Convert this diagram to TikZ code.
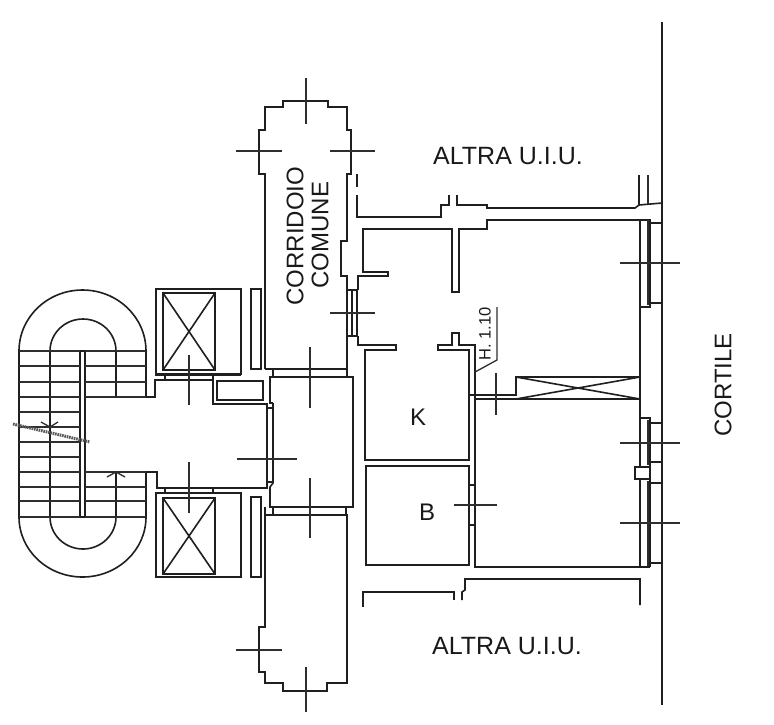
\documentclass[tikz,border=0pt]{standalone}
\usepackage{fontspec}
\setmainfont{Liberation Sans}
\tikzset{
  wall/.style={line width=1.6pt, color=black!88},
  tick/.style={line width=1.3pt, color=black!82},
  heavy/.style={line width=2.6pt, color=black!82},
  room/.style={font=\fontsize{24}{24}\selectfont, color=black!90, inner sep=0pt},
}
\begin{document}
\begin{tikzpicture}[x=1pt,y=-1pt]
  \useasboundingbox (0,0) rectangle (774,724);
  % stairs
  \draw[wall] (19,351) arc[start angle=180,end angle=360,x radius=63.5,y radius=61];
  \draw[wall] (19,517) arc[start angle=180,end angle=0,x radius=63.5,y radius=60];
  \draw[wall] (50,351) arc[start angle=180,end angle=360,x radius=33,y radius=32];
  \draw[wall] (50,517) arc[start angle=180,end angle=0,x radius=33,y radius=32];
  \draw[wall] (19,351) -- (19,517) (50,351) -- (50,517) (146,351) -- (146,397) (146,472) -- (146,517);
  \draw[wall] (116,351) -- (116,397) (116,472) -- (116,517);
  \draw[wall] (80,351) -- (80,517) (85,351) -- (85,517) (80,351) -- (85,351) (80,517) -- (85,517);
  \foreach \y in {351,366,382,397,412,427,442,457,472,487,501,517}
    \draw[tick] (19,\y) -- (80,\y);
  \foreach \y in {351,366,382,397,472,487,501,517}
    \draw[tick] (85,\y) -- (146,\y);
  \draw[tick] (107,477) -- (116,472) -- (125,477);
  \draw[tick] (41,422) -- (50,427) -- (58,422);
  \draw[line width=3pt, color=black!65, dash pattern=on 1.6pt off 0.8pt] (13,424) -- (90,442);
  % hall
  \draw[wall] (146,397) -- (155,397) -- (155,380) -- (213,380) -- (213,404) -- (267,404) -- (267,488) -- (157,488) -- (157,472) -- (146,472);
  \draw[wall] (155,375) -- (241,375) (165,375) -- (165,380) (213,375) -- (213,380);
  \draw[wall] (217,381) rectangle (263,400);
  % lifts
  \draw[wall] (156,374) -- (156,289) -- (241,289) -- (241,374) -- cycle;
  \draw[wall] (163,293) rectangle (215,370) (163,293) -- (215,370) (163,370) -- (215,293);
  \draw[wall] (156,493) rectangle (241,577);
  \draw[wall] (163,498) rectangle (215,574) (163,498) -- (215,574) (163,574) -- (215,498);
  \draw[wall] (165,488) -- (165,493) (213,488) -- (213,493);
  \draw[wall] (251,289) rectangle (261,369);
  \draw[wall] (251,497) rectangle (261,577);
  % corridor, upper arm
  \draw[wall] (265,369) -- (265,174) -- (259,174) -- (259,130) -- (265,130) -- (265,107) -- (283,107) -- (283,101) -- (328,101) -- (328,107) -- (347,107) -- (347,130) -- (351,130) -- (351,174) -- (347,174) -- (347,241) -- (341,241) -- (341,276) -- (347,276) -- (347,370);
  \draw[wall] (265,369) -- (347,369) (273,369) -- (273,377) (347,369) -- (347,377);
  % corridor, middle
  \draw[wall] (273,403) -- (270,403) -- (270,377) -- (353,377) -- (353,507) -- (270,507) -- (270,487) -- (273,483) -- (273,403);
  \draw[wall] (267,408) -- (273,408) (267,482) -- (273,482);
  % corridor, lower arm
  \draw[wall] (265,507) -- (265,627) -- (259,627) -- (259,672) -- (265,672) -- (265,683) -- (283,683) -- (283,691) -- (327,691) -- (327,683) -- (347,683) -- (347,515) -- (265,515);
  \draw[wall] (273,507) -- (273,515) (346,507) -- (346,515);
  % window on corridor
  \draw[wall] (347,290) -- (357,290) -- (357,336) -- (347,336) (352,290) -- (352,336);
  % flat, walls
  \draw[wall] (357,174) -- (357,187) (357,195) -- (357,217) -- (441,217) -- (441,205) -- (449,205) -- (449,195);
  \draw[wall] (457,195) -- (457,205) -- (487,205) -- (487,208) -- (635,208) -- (639,205);
  \draw[wall] (639,175) -- (639,205);
  \draw[heavy] (648,175) -- (648,205);
  \draw[wall] (639,205) -- (662,203);
  \draw[wall] (358,290) -- (358,276) -- (388,276) -- (388,272) -- (363,272) -- (363,229) -- (452,229) -- (452,292) -- (459,292) -- (459,229) -- (487,229) -- (487,220) -- (648,220);
  \draw[wall] (358,336) -- (358,345) -- (396,345) -- (396,350) -- (365,350) -- (365,460) -- (469,460) -- (469,350) -- (438,350) -- (438,345) -- (452,345) -- (452,333) -- (459,333) -- (459,345) -- (475,345) -- (475,567) -- (650,567);
  \draw[wall] (366,466) rectangle (469,565);
  \draw[wall] (469,485) -- (475,485) (469,525) -- (475,525);
  % right side with windows
  \draw[wall] (662,22) -- (662,705);
  \draw[wall] (640,220) -- (640,467) -- (635,467) -- (635,479) -- (640,479) -- (640,567);
  \draw[wall] (640,220) -- (650,220) -- (650,307) -- (640,307);
  \draw[wall] (640,418) -- (650,418) -- (650,479) -- (635,479) (640,467) -- (650,467);
  \draw[wall] (650,479) -- (650,567);
  \draw[heavy] (648,220) -- (648,305) (648,420) -- (648,465) (648,481) -- (648,566);
  \draw[wall] (650,223) -- (662,223) (650,303) -- (662,303) (650,423) -- (662,423) (650,462) -- (662,462) (650,483) -- (662,483) (650,563) -- (662,563);
  % shaft
  \draw[wall] (469,395) -- (516,395) -- (516,377) -- (640,377);
  \draw[wall] (475,399) -- (640,399) (516,377) -- (640,399) (516,399) -- (640,377);
  % balustrade label
  \draw[tick] (497,307) -- (497,360) -- (475,372);
  \node[font=\fontsize{16.5}{16.5}\selectfont, color=black!90, rotate=90, inner sep=0pt] (hlabel) at (485,334) {H. 1.10};
  % bottom walls
  \draw[wall] (363,607) -- (363,592) -- (454,592) -- (454,600);
  \draw[wall] (462,600) -- (462,592) -- (465,590) -- (465,579) -- (640,579) -- (640,605);
  % dimension crosses
  \draw[tick] (189,355) -- (189,405) (189,462) -- (189,513) (237,459) -- (297,459);
  \draw[tick] (306,78) -- (306,124) (236,151) -- (282,151) (330,151) -- (375,151) (330,313) -- (375,313);
  \draw[tick] (310,347) -- (310,408) (310,478) -- (310,538) (236,650) -- (282,650) (306,667) -- (306,712);
  \draw[tick] (496,373) -- (496,415) (454,505) -- (497,505);
  \draw[tick] (620,263) -- (680,263) (620,443) -- (680,443) (620,523) -- (680,523);
  % labels
  \node[room, font=\fontsize{25}{25}\selectfont] (altratop) at (508,156) {ALTRA U.I.U.};
  \node[room, font=\fontsize{25}{25}\selectfont] (altrabot) at (507,646) {ALTRA U.I.U.};
  \node[room, rotate=90] (cortile) at (723,385) {CORTILE};
  \node[room, rotate=90] (corridoio) at (295,236) {CORRIDOIO};
  \node[room, rotate=90] (comune) at (320,235) {COMUNE};
  \node[room] (kitchen) at (418,417) {K};
  \node[room] (bath) at (427,512) {B};
\end{tikzpicture}
\end{document}
